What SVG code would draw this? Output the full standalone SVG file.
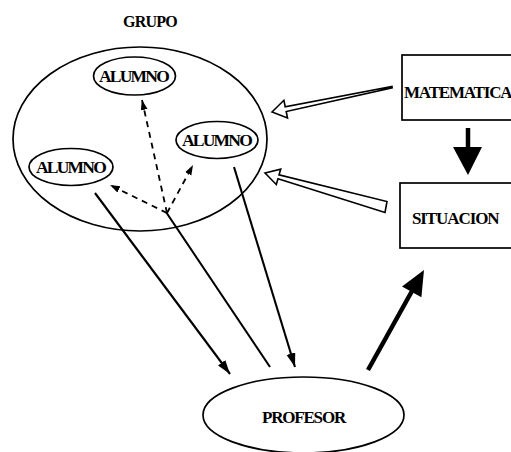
<svg xmlns="http://www.w3.org/2000/svg" width="511" height="452" viewBox="0 0 511 452">
<style>
  .bg { fill: #ffffff; }
  .shape { fill: none; stroke: #000; stroke-width: 1.7; }
  .lbl { font-family: "Liberation Serif", "Times New Roman", serif; font-weight: bold; fill: #000; }
  .alumno { font-size: 17.5px; letter-spacing: -1.8px; text-anchor: middle; }
  .solid { stroke: #000; stroke-width: 2.1; fill: none; }
  .dash { stroke: #000; stroke-width: 1.8; fill: none; stroke-dasharray: 6 5; }
  .hollow { fill: #fff; stroke: #000; stroke-width: 1.6; stroke-linejoin: miter; }
</style>
<defs>
  <marker id="ah" markerUnits="userSpaceOnUse" markerWidth="16" markerHeight="10" refX="14" refY="4.5" orient="auto">
    <path d="M0,0 L14,4.5 L0,9 z" fill="#000"/>
  </marker>
  <marker id="dh" markerUnits="userSpaceOnUse" markerWidth="11" markerHeight="8" refX="10" refY="3.5" orient="auto">
    <path d="M0,0 L10,3.5 L0,7 z" fill="#000"/>
  </marker>
</defs>
<rect class="bg" x="0" y="0" width="511" height="452"/>

<g id="grupo">
  <ellipse class="shape" cx="140" cy="139" rx="127" ry="92"/>
  <text class="lbl" x="150" y="27" font-size="16" text-anchor="middle" letter-spacing="-0.8">GRUPO</text>
</g>
<g id="alumno-top">
  <ellipse class="shape" cx="134.5" cy="76" rx="41" ry="19"/>
  <text class="lbl alumno" x="133.5" y="81.5">ALUMNO</text>
</g>
<g id="alumno-right">
  <ellipse class="shape" cx="217" cy="140" rx="41" ry="18.5"/>
  <text class="lbl alumno" x="216.5" y="146">ALUMNO</text>
</g>
<g id="alumno-left">
  <ellipse class="shape" cx="71" cy="167" rx="42" ry="18.5"/>
  <text class="lbl alumno" x="70.5" y="173">ALUMNO</text>
</g>
<g id="matematica">
  <rect class="shape" x="402" y="55" width="130" height="65"/>
  <text class="lbl" x="404" y="98" font-size="17" letter-spacing="-1.2">MATEMATICA</text>
</g>
<g id="situacion">
  <rect class="shape" x="400" y="183" width="130" height="65"/>
  <text class="lbl" x="412" y="224" font-size="17" letter-spacing="-1.1">SITUACION</text>
</g>
<g id="profesor">
  <ellipse class="shape" cx="303.5" cy="415" rx="100.5" ry="38"/>
  <text class="lbl" x="303.5" y="423" font-size="17" letter-spacing="-1.2" text-anchor="middle">PROFESOR</text>
</g>

<g id="connectors">
  <!-- dashed arrows inside GRUPO -->
  <line class="dash" x1="167" y1="213" x2="142" y2="100" marker-end="url(#dh)"/>
  <line class="dash" x1="167" y1="213" x2="110" y2="185" marker-end="url(#dh)"/>
  <line class="dash" x1="167" y1="213" x2="193" y2="165" marker-end="url(#dh)"/>
  <!-- solid arrows to/from PROFESOR -->
  <line class="solid" x1="95" y1="193" x2="230" y2="374" marker-end="url(#ah)"/>
  <line class="solid" x1="166" y1="212" x2="270" y2="367"/>
  <line class="solid" x1="234" y1="167" x2="295" y2="367" marker-end="url(#ah)"/>
  <!-- thick arrow PROFESOR -> SITUACION -->
  <line x1="368" y1="370" x2="412" y2="291" stroke="#000" stroke-width="4.5"/>
  <polygon points="424,270 402,286.4 421.4,297.2" fill="#000"/>
  <!-- MATEMATICA -> SITUACION -->
  <line x1="468" y1="128" x2="468" y2="149" stroke="#000" stroke-width="4.5"/>
  <polygon points="453,147 482,147 468,175" fill="#000"/>
  <!-- hollow arrow MATEMATICA -> GRUPO -->
  <polygon class="hollow" points="272,112 283.9,100.3 285.2,106.7 392,86.5 392.1,87.8 286.2,111.5 287.5,117.9"/>
  <!-- hollow arrow SITUACION -> GRUPO -->
  <polygon class="hollow" points="265,173 280.7,169.1 279,174.9 387,201.5 385,212.5 278,178.7 276.3,184.5"/>
</g>
</svg>
